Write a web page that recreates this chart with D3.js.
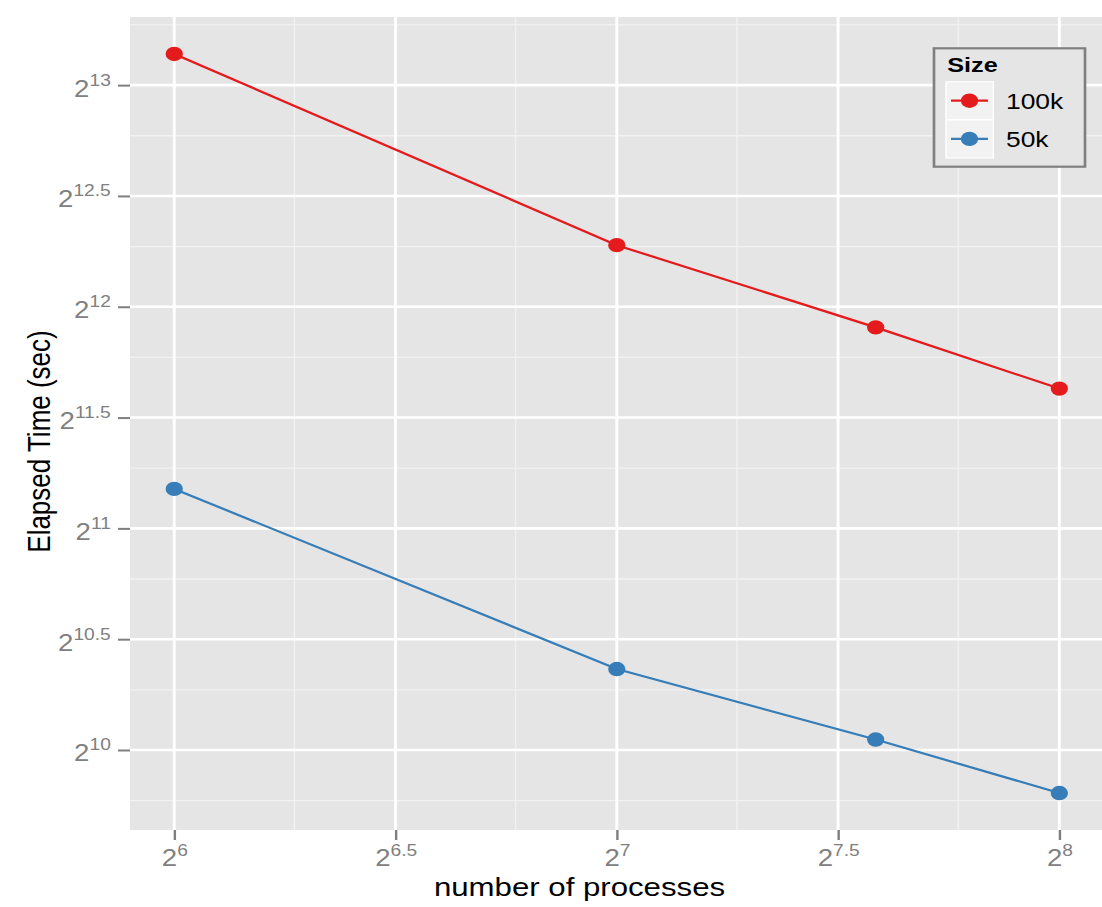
<!DOCTYPE html>
<html>
<head>
<meta charset="utf-8">
<script src="https://cdn.jsdelivr.net/npm/d3@7"></script>
<style>
body { margin: 0; background: #fff; }
text { font-family: "Liberation Sans", Arial, sans-serif; }
</style>
</head>
<body>
<div id="chart"></div>
<script>
// data (seconds)
var processes = [64, 128, 192, 256];
var time100k = [9031, 4966, 3840, 3171];
var time50k = [2317, 1319, 1058, 895];
var seriesNames = ["100k", "50k"];
var seriesColors = ["#E41A1C", "#377EB8"];
var xTickExps = [6, 6.5, 7, 7.5, 8];
var yTickExps = [10, 10.5, 11, 11.5, 12, 12.5, 13];

// the original picture is stretched sideways, so draw in a narrower space and scale x
var SX = 1.2;
var width = 1102, height = 907;
var panel = {left: 130 / SX, right: 1103.6 / SX, top: 17, bottom: 830};

var svg = d3.select("#chart").append("svg").attr("width", width).attr("height", height);
var g = svg.append("g").attr("transform", "scale(" + SX + ",1)");

function expandLog(vals) {
	var lo = Math.log2(d3.min(vals)), hi = Math.log2(d3.max(vals));
	var pad = (hi - lo) * 0.05;
	return [Math.pow(2, lo - pad), Math.pow(2, hi + pad)];
}

// minor breaks sit halfway between majors in data space
function minorBreaks(exps, domain) {
	var step = exps[1] - exps[0];
	var all = [exps[0] - step].concat(exps, [exps[exps.length - 1] + step]);
	var out = [];
	for (var i = 0; i < all.length - 1; i++) {
		var m = (Math.pow(2, all[i]) + Math.pow(2, all[i + 1])) / 2;
		if (m >= domain[0] && m <= domain[1]) out.push(m);
	}
	return out;
}

var x = d3.scaleLog().base(2).domain(expandLog(processes)).range([panel.left, panel.right]);
var y = d3.scaleLog().base(2).domain(expandLog(time100k.concat(time50k))).range([panel.bottom, panel.top]);

var xBreaks = xTickExps.map(function(e) { return Math.pow(2, e); });
var yBreaks = yTickExps.map(function(e) { return Math.pow(2, e); });

// panel
g.append("rect").attr("x", panel.left).attr("y", panel.top)
	.attr("width", panel.right - panel.left).attr("height", panel.bottom - panel.top)
	.attr("fill", "#e5e5e5");

// minor grid
g.selectAll(".xminor").data(minorBreaks(xTickExps, x.domain())).enter().append("line")
	.attr("x1", function(d) { return x(d); }).attr("x2", function(d) { return x(d); })
	.attr("y1", panel.top).attr("y2", panel.bottom)
	.attr("stroke", "#f2f2f2").attr("stroke-width", 1.1);
g.selectAll(".yminor").data(minorBreaks(yTickExps, y.domain())).enter().append("line")
	.attr("x1", panel.left).attr("x2", panel.right)
	.attr("y1", function(d) { return y(d); }).attr("y2", function(d) { return y(d); })
	.attr("stroke", "#f2f2f2").attr("stroke-width", 1.3);

// major grid
g.selectAll(".xmajor").data(xBreaks).enter().append("line")
	.attr("x1", function(d) { return x(d); }).attr("x2", function(d) { return x(d); })
	.attr("y1", panel.top).attr("y2", panel.bottom)
	.attr("stroke", "#fff").attr("stroke-width", 2.4);
g.selectAll(".ymajor").data(yBreaks).enter().append("line")
	.attr("x1", panel.left).attr("x2", panel.right)
	.attr("y1", function(d) { return y(d); }).attr("y2", function(d) { return y(d); })
	.attr("stroke", "#fff").attr("stroke-width", 2.6);

// series
var series = [time100k, time50k];
var line = d3.line().x(function(d, i) { return x(processes[i]); }).y(function(d) { return y(d); });

series.forEach(function(vals, k) {
	g.append("path").attr("d", line(vals)).attr("fill", "none")
		.attr("stroke", seriesColors[k]).attr("stroke-width", 2.2);
	g.selectAll(".pt" + k).data(vals).enter().append("circle")
		.attr("cx", function(d, i) { return x(processes[i]); })
		.attr("cy", function(d) { return y(d); })
		.attr("r", 7.2).attr("fill", seriesColors[k]);
});

// axes
function powLabel(sel, exps, baseY, supShift) {
	sel.selectAll("text").each(function(d, i) {
		var t = d3.select(this).text("").attr("dy", null).attr("y", baseY)
			.attr("fill", "#808080").style("font-size", "23px");
		t.append("tspan").text("2");
		t.append("tspan").attr("dy", supShift).style("font-size", "16px").text(exps[i]);
	});
}

var yAxis = g.append("g").attr("transform", "translate(" + panel.left + ",0)")
	.call(d3.axisLeft(y).tickValues(yBreaks).tickSize(10).tickPadding(6));
yAxis.select(".domain").remove();
yAxis.selectAll(".tick line").attr("stroke", "#7f7f7f").attr("stroke-width", 2);
powLabel(yAxis, yTickExps, 11, -11);

var xAxis = g.append("g").attr("transform", "translate(0," + panel.bottom + ")")
	.call(d3.axisBottom(x).tickValues(xBreaks).tickSize(10));
xAxis.select(".domain").remove();
xAxis.selectAll(".tick line").attr("stroke", "#7f7f7f").attr("stroke-width", 2);
powLabel(xAxis, xTickExps, 36, -10);

// axis titles
g.append("text").attr("x", 579.5 / SX).attr("y", 896).attr("text-anchor", "middle")
	.style("font-size", "26px").attr("fill", "#000").text("number of processes");
g.append("text").attr("transform", "translate(" + (50 / SX) + ",441.5) rotate(-90)")
	.attr("text-anchor", "middle").style("font-size", "26px").attr("fill", "#000")
	.text("Elapsed Time (sec)");

// legend
var lg = g.append("g");
lg.append("rect").attr("x", 934 / SX).attr("y", 48.3)
	.attr("width", (1085 - 934) / SX).attr("height", 118.4)
	.attr("fill", "#e5e5e5").attr("stroke", "#7f7f7f").attr("stroke-width", 2.2);
lg.append("text").attr("x", 947.3 / SX).attr("y", 72.5).style("font-size", "21px")
	.style("font-weight", "bold").text("Size");

seriesNames.forEach(function(name, k) {
	var top = 81.7 + k * 38.2;
	lg.append("rect").attr("x", 946 / SX).attr("y", top)
		.attr("width", 47.3 / SX).attr("height", 38)
		.attr("fill", "#f2f2f2").attr("stroke", "#fff").attr("stroke-width", 1.2);
	lg.append("line").attr("x1", 951 / SX).attr("x2", 988 / SX)
		.attr("y1", top + 19).attr("y2", top + 19)
		.attr("stroke", seriesColors[k]).attr("stroke-width", 2.2);
	lg.append("circle").attr("cx", 969.5 / SX).attr("cy", top + 19).attr("r", 7.2)
		.attr("fill", seriesColors[k]);
	lg.append("text").attr("x", 1006 / SX).attr("y", top + 27.5).style("font-size", "22px")
		.text(name);
});
</script>
</body>
</html>
